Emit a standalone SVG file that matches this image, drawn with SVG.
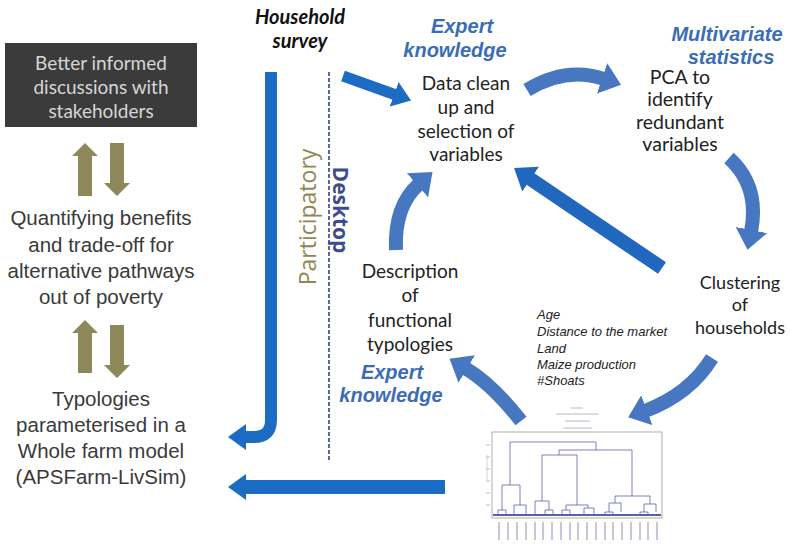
<svg xmlns="http://www.w3.org/2000/svg" width="790" height="547" viewBox="0 0 790 547">
<style>
.lt{font-family:"Liberation Sans",Arial,sans-serif;font-size:20.5px;fill:#3a3a3a;text-anchor:middle}
.cb{font-family:Lato,"Open Sans",sans-serif;font-size:19px;fill:#222;text-anchor:middle}
.ek{font-family:"Liberation Sans",Arial,sans-serif;font-size:20px;font-weight:bold;font-style:italic;fill:#3a6db5;text-anchor:middle}
.hs{font-family:Lato,"Open Sans",sans-serif;font-size:20px;font-weight:bold;font-style:italic;fill:#111;text-anchor:middle}
.var{font-family:"Liberation Sans",Arial,sans-serif;font-size:13px;font-style:italic;fill:#222}
.cyc{fill:none;stroke:#4677c0;stroke-width:14}
.hh{fill:none;stroke:#1c6cc4}
.olive{fill:#8e875a}
.dg{fill:none;stroke:#5b5fa8;stroke-width:0.8}
</style>
<defs>
<marker id="hc" markerUnits="userSpaceOnUse" viewBox="0 0 20 32" refX="2" refY="16" markerWidth="20" markerHeight="32" orient="auto">
<path d="M0,0 L20,16 L0,32 z" fill="#4677c0"/>
</marker>
<marker id="hh" markerUnits="userSpaceOnUse" viewBox="0 0 18 26" refX="2" refY="13" markerWidth="18" markerHeight="26" orient="auto">
<path d="M0,0 L18,13 L0,26 z" fill="#1c6cc4"/>
</marker>
<marker id="hd" markerUnits="userSpaceOnUse" viewBox="0 0 20 30" refX="2" refY="15" markerWidth="20" markerHeight="30" orient="auto">
<path d="M0,0 L20,15 L0,30 z" fill="#2167bd"/>
</marker>
<path id="up" d="M-7,40 V0 H-13 L0,-13 L13,0 H7 V40 z"/>
</defs>
<rect width="790" height="547" fill="#fff"/>

<g id="connectors">
<path class="cyc" d="M527,90 Q566,66 604,79" marker-end="url(#hc)"/>
<path class="cyc" d="M729,158 Q760,186 751,232" marker-end="url(#hc)"/>
<path class="cyc" d="M712,358 Q690,394 645,411" marker-end="url(#hc)"/>
<path class="cyc" d="M521,421 Q492,384 465,368" marker-end="url(#hc)"/>
<path class="cyc" d="M396,250 Q394,206 419,184" marker-end="url(#hc)"/>
<path d="M662,268 L529,178" fill="none" stroke="#2167bd" stroke-width="14" marker-end="url(#hd)"/>
<path class="hh" stroke-width="11" d="M343,76 L396,95" marker-end="url(#hh)"/>
<path class="hh" stroke-width="12" d="M271,72 V420 Q271,437 254,437 H244" marker-end="url(#hh)"/>
<path class="hh" stroke-width="14" d="M445,487 H244" marker-end="url(#hh)"/>
<line x1="329" y1="72" x2="329" y2="460" stroke="#5a66a0" stroke-width="2" stroke-dasharray="4,2"/>
<g class="olive">
<use href="#up" transform="translate(85,156)"/>
<use href="#up" transform="translate(117,183) rotate(180)"/>
<use href="#up" transform="translate(85,333)"/>
<use href="#up" transform="translate(117,365) rotate(180)"/>
</g>
</g>

<g id="better">
<rect x="5" y="43" width="192" height="84" fill="#3b3b3b"/>
<text class="cb" x="101" y="70" style="fill:#d6d6d6">Better informed</text>
<text class="cb" x="101" y="94" style="fill:#d6d6d6">discussions with</text>
<text class="cb" x="101" y="118" style="fill:#d6d6d6">stakeholders</text>
</g>

<g id="quantifying">
<text class="lt" x="101" y="225">Quantifying benefits</text>
<text class="lt" x="101" y="252">and trade-off for</text>
<text class="lt" x="101" y="278">alternative pathways</text>
<text class="lt" x="101" y="304">out of poverty</text>
</g>

<g id="typologies">
<text class="lt" x="101" y="406">Typologies</text>
<text class="lt" x="101" y="432">parameterised in a</text>
<text class="lt" x="101" y="458">Whole farm model</text>
<text class="lt" x="101" y="484">(APSFarm-LivSim)</text>
</g>

<g id="survey">
<text class="hs" x="300" y="24">Household</text>
<text class="hs" x="300" y="48">survey</text>
</g>

<g id="labels">
<text x="0" y="0" transform="translate(316,217) rotate(-90)" style="font-family:'Open Sans',Lato,sans-serif;font-size:23px;font-weight:500;fill:#8f8850;text-anchor:middle">Participatory</text>
<text x="0" y="0" transform="translate(333,210) rotate(90)" style="font-family:'Open Sans',Lato,sans-serif;font-size:21px;font-weight:bold;fill:#3d4c8e;text-anchor:middle">Desktop</text>
</g>

<g id="dataclean">
<text class="ek" x="462" y="33">Expert</text>
<text class="ek" x="455" y="57">knowledge</text>
<text class="cb" x="466" y="90">Data clean</text>
<text class="cb" x="466" y="114">up and</text>
<text class="cb" x="466" y="138">selection of</text>
<text class="cb" x="466" y="161">variables</text>
</g>

<g id="pca">
<text class="ek" x="727" y="41">Multivariate</text>
<text class="ek" x="731" y="64">statistics</text>
<text class="cb" x="680" y="84" style="font-size:19.5px">PCA to</text>
<text class="cb" x="680" y="106" style="font-size:19.5px">identify</text>
<text class="cb" x="680" y="129" style="font-size:19.5px">redundant</text>
<text class="cb" x="680" y="151" style="font-size:19.5px">variables</text>
</g>

<g id="clustering">
<text class="cb" x="740" y="289" style="font-size:18px">Clustering</text>
<text class="cb" x="740" y="311" style="font-size:18px">of</text>
<text class="cb" x="740" y="334" style="font-size:18px">households</text>
</g>

<g id="variables">
<text class="var" x="537" y="319">Age</text>
<text class="var" x="537" y="336">Distance to the market</text>
<text class="var" x="537" y="353">Land</text>
<text class="var" x="537" y="369">Maize production</text>
<text class="var" x="537" y="385">#Shoats</text>
</g>

<g id="description">
<text class="cb" x="410" y="278">Description</text>
<text class="cb" x="410" y="302">of</text>
<text class="cb" x="410" y="327">functional</text>
<text class="cb" x="410" y="351">typologies</text>
<text class="ek" x="392" y="379">Expert</text>
<text class="ek" x="391" y="402">knowledge</text>
</g>

<g id="dendrogram">
<g stroke="#b8b8c8" stroke-width="1">
<line x1="571" y1="408" x2="583" y2="408"/>
<line x1="556" y1="414" x2="598" y2="414"/>
<line x1="565" y1="421" x2="590" y2="421"/>
<line x1="563" y1="428" x2="592" y2="428"/>
</g>
<rect x="492" y="432" width="170" height="86" fill="none" stroke="#999" stroke-width="0.8"/>
<g stroke="#aaa" stroke-width="0.8">
<line x1="486" y1="445" x2="490" y2="445"/><line x1="486" y1="457" x2="490" y2="457"/>
<line x1="486" y1="469" x2="490" y2="469"/><line x1="486" y1="481" x2="490" y2="481"/>
<line x1="486" y1="493" x2="490" y2="493"/><line x1="486" y1="505" x2="490" y2="505"/>
<line x1="487" y1="455" x2="487" y2="480" stroke="#ccc"/>
</g>
<g class="dg">
<path d="M510,485 V442 H596 V450"/>
<path d="M559,455 V450 H632 V496"/>
<path d="M542,501 V455 H577 V505"/>
<path d="M502,510 V485 H520 V505"/>
<path d="M498,514 V510 H506 V514"/>
<path d="M514,514 V505 H526 V514"/>
<path d="M535,514 V501 H549 V510"/>
<path d="M545,514 V510 H553 V514"/>
<path d="M566,510 V505 H588 V508"/>
<path d="M562,514 V510 H570 V514"/>
<path d="M584,514 V508 H594 V514"/>
<path d="M615,503 V496 H650 V504"/>
<path d="M609,512 V503 H621 V512"/>
<path d="M644,512 V504 H656 V512"/>
<path d="M605,514 V512 H613 V514"/>
<path d="M640,514 V512 H648 V514"/>
<line x1="493" y1="515" x2="661" y2="515" stroke-width="2"/>
</g>
<g stroke="#8a8fb8" stroke-width="1">
<line x1="499" y1="522" x2="499" y2="540"/><line x1="508" y1="522" x2="508" y2="540"/>
<line x1="517" y1="522" x2="517" y2="540"/><line x1="526" y1="522" x2="526" y2="540"/>
<line x1="535" y1="522" x2="535" y2="540"/><line x1="543" y1="522" x2="543" y2="540"/>
<line x1="552" y1="522" x2="552" y2="540"/><line x1="561" y1="522" x2="561" y2="540"/>
<line x1="570" y1="522" x2="570" y2="540"/><line x1="578" y1="522" x2="578" y2="540"/>
<line x1="587" y1="522" x2="587" y2="540"/><line x1="596" y1="522" x2="596" y2="540"/>
<line x1="605" y1="522" x2="605" y2="540"/><line x1="613" y1="522" x2="613" y2="540"/>
<line x1="622" y1="522" x2="622" y2="540"/><line x1="631" y1="522" x2="631" y2="540"/>
<line x1="640" y1="522" x2="640" y2="540"/><line x1="648" y1="522" x2="648" y2="540"/>
<line x1="657" y1="522" x2="657" y2="540"/>
</g>
</g>
</svg>
